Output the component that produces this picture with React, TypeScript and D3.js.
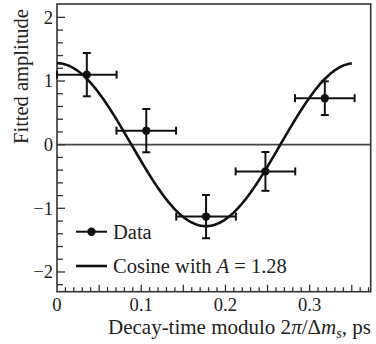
import React from 'react';
import * as d3 from 'd3';

const binCenters = [0.0354, 0.106, 0.177, 0.2475, 0.318];
const amplitudes = [1.1, 0.22, -1.13, -0.42, 0.73];
const ampErrors = [0.34, 0.34, 0.34, 0.305, 0.265];
const timeErrors = [0.0354, 0.0354, 0.0354, 0.0354, 0.0354];
const cosineAmplitude = 1.28;
const cosinePeriod = 0.3536;
const xTickValues = [0, 0.1, 0.2, 0.3];
const yTickValues = [-2, -1, 0, 1, 2];

const W = 376;
const H = 344;
const FONT = "'Liberation Serif', 'Times New Roman', serif";
const TICK_FS = 18.6;
const TITLE_FS = 20.5;

export default function App() {
  const x = d3.scaleLinear().domain([0, 0.3725]).range([57, 370.7]);
  const y = d3.scaleLinear().domain([-2.31, 2.21]).range([291.7, 4]);

  const curvePts = d3.range(0, 201).map((i) => {
    const t = (cosinePeriod * 0.99 * i) / 200;
    return [t, cosineAmplitude * Math.cos((2 * Math.PI * t) / cosinePeriod)] as [number, number];
  });
  const line = d3
    .line<[number, number]>()
    .x((d) => x(d[0]))
    .y((d) => y(d[1]))
    .curve(d3.curveBasis);

  const xMinor = d3.range(1, 38).map((i) => i / 100);
  const yMinor = d3.range(-11, 11).map((i) => i / 5);
  const fmtY = (v: number) => (v < 0 ? '\u2212' + Math.abs(v) : String(v));

  const [x0, x1] = x.range();
  const [yb, yt] = y.range();
  const cap = 4;

  return (
    <svg width={W} height={H} style={{ position: 'absolute', left: 0, top: 0, background: '#fff' }} fontFamily={FONT}>
      {/* zero line */}
      <line x1={x0} x2={x1} y1={y(0)} y2={y(0)} stroke="#444" strokeWidth={1.6} />
      {/* x ticks */}
      {xMinor.map((v, i) => {
        const major = Math.round(v * 100) % 5 === 0;
        return (
          <line key={'xm' + i} x1={x(v)} x2={x(v)} y1={yb} y2={yb - (major ? 7 : 4.5)} stroke="#333" strokeWidth={1.3} />
        );
      })}
      {/* y ticks */}
      {yMinor.map((v, i) => {
        const major = Math.abs(v - Math.round(v)) < 1e-6;
        return (
          <line key={'ym' + i} x1={x0} x2={x0 + (major ? 8 : 6)} y1={y(v)} y2={y(v)} stroke="#333" strokeWidth={1.3} />
        );
      })}
      {/* frame */}
      <rect x={x0} y={yt} width={x1 - x0} height={yb - yt} fill="none" stroke="#333" strokeWidth={1.6} />
      {/* tick labels */}
      {xTickValues.map((v) => (
        <text key={'xl' + v} x={x(v)} y={310.5} textAnchor="middle" fontSize={TICK_FS} fill="#222">
          {v === 0 ? '0' : v.toFixed(1)}
        </text>
      ))}
      {yTickValues.map((v) => (
        <text key={'yl' + v} x={53} y={y(v) + 6.3} textAnchor="end" fontSize={TICK_FS} fill="#222">
          {fmtY(v)}
        </text>
      ))}
      {/* cosine */}
      <path d={line(curvePts) || ''} fill="none" stroke="#111" strokeWidth={2.6} />
      {/* data */}
      {binCenters.map((t, i) => {
        const cx = x(t);
        const cy = y(amplitudes[i]);
        const xl = x(t - timeErrors[i]);
        const xr = x(t + timeErrors[i]);
        const yu = y(amplitudes[i] + ampErrors[i]);
        const yd = y(amplitudes[i] - ampErrors[i]);
        return (
          <g key={'p' + i} stroke="#111" strokeWidth={2}>
            <line x1={xl} x2={xr} y1={cy} y2={cy} />
            <line x1={xl} x2={xl} y1={cy - cap} y2={cy + cap} />
            <line x1={xr} x2={xr} y1={cy - cap} y2={cy + cap} />
            <line x1={cx} x2={cx} y1={yu} y2={yd} />
            <line x1={cx - cap} x2={cx + cap} y1={yu} y2={yu} />
            <line x1={cx - cap} x2={cx + cap} y1={yd} y2={yd} />
            <circle cx={cx} cy={cy} r={4.2} fill="#111" stroke="none" />
          </g>
        );
      })}
      {/* legend */}
      <line x1={76} x2={107} y1={231.7} y2={231.7} stroke="#111" strokeWidth={2} />
      <circle cx={91.5} cy={231.7} r={4.2} fill="#111" />
      <text x={113} y={238.5} fontSize={TITLE_FS} fill="#222">Data</text>
      <line x1={76} x2={107} y1={266} y2={266} stroke="#111" strokeWidth={2.6} />
      <text x={113} y={272.5} fontSize={TITLE_FS} fill="#222">
        Cosine with <tspan fontStyle="italic">A</tspan> = 1.28
      </text>
      {/* axis titles */}
      <text x={108} y={333.5} fontSize={21} fill="#222">
        Decay-time modulo 2<tspan fontStyle="italic">π</tspan>/Δ<tspan fontStyle="italic">m</tspan>
        <tspan fontStyle="italic" fontSize={14} dy={4}>s</tspan>
        <tspan dy={-4}>, ps</tspan>
      </text>
      <text transform="translate(28,76.5) rotate(-90)" textAnchor="middle" fontSize={TITLE_FS} fill="#222">
        Fitted amplitude
      </text>
    </svg>
  );
}
